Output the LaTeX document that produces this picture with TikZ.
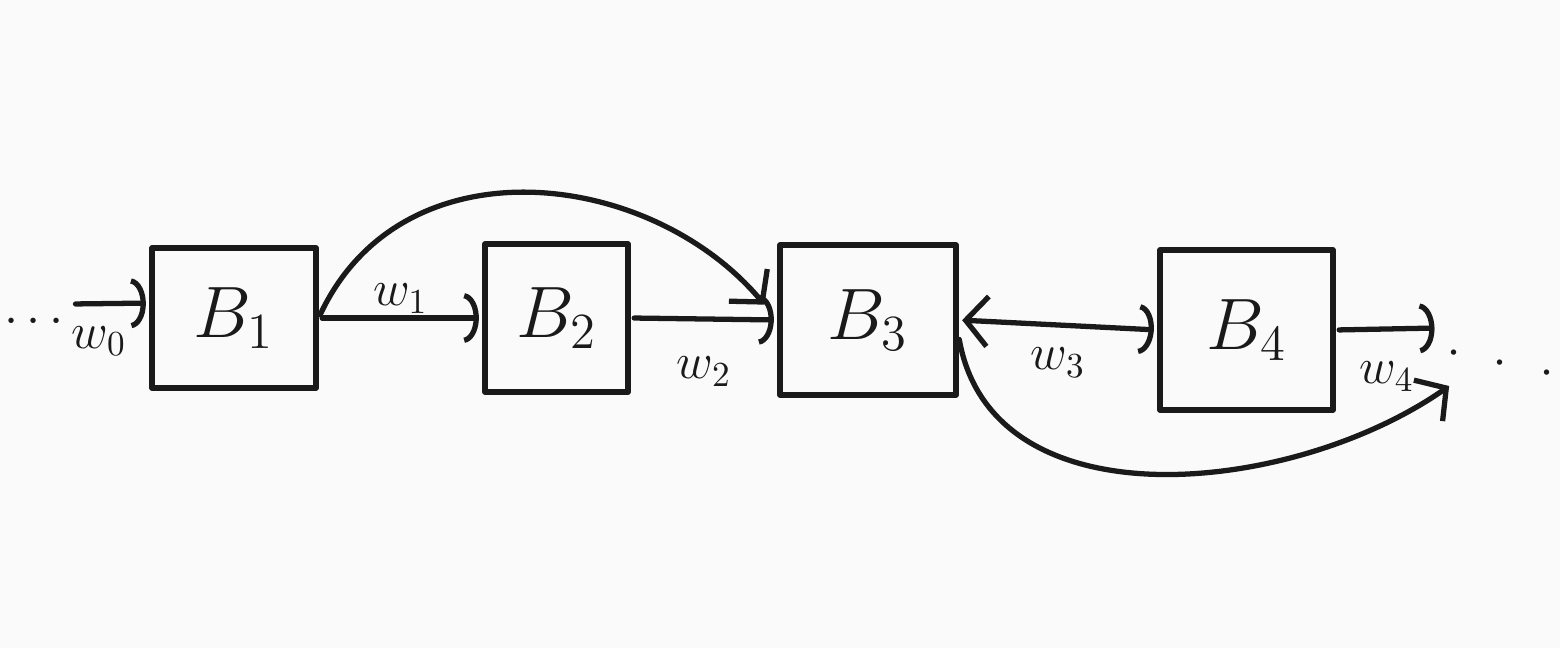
\documentclass[tikz,border=0pt]{standalone}
\usepackage{amssymb}
\usetikzlibrary{positioning,arrows.meta}
\definecolor{ink}{HTML}{1A1A1A}
\definecolor{paper}{HTML}{FAFAFA}
\tikzset{->,>={Arc Barb[width=5mm,arc=170]},
shorten >=1pt,shorten <=1pt,
auto,
blk/.style={rectangle,draw,inner sep=0mm,font=\huge},
el/.style={font=\Large,inner sep=2mm},
barb/.style={-{Straight Barb[length=2.2mm,width=5mm]}},
both/.style={{Straight Barb[length=2.2mm,width=5mm]}-{Arc Barb[width=5mm,arc=170]}},
dotsl/.style={font=\Large,inner sep=0mm},
}

\begin{document}
\begin{tikzpicture}[color=ink,line width=1.5pt,line cap=round,line join=round]
\useasboundingbox[-,fill=paper] (0,0) rectangle (15.6,-6.48);
\node[blk,minimum width=1.64cm,minimum height=1.4cm] (blk1) at (2.34,-3.18) {$B_1$};
\node[blk,minimum width=1.43cm,minimum height=1.48cm] (blk2) at (5.565,-3.18) {$B_2$};
\node[blk,minimum width=1.76cm,minimum height=1.5cm] (blk3) at (8.68,-3.2) {$B_3$};
\node[blk,minimum width=1.73cm,minimum height=1.6cm] (blk4) at (12.465,-3.3) {$B_4$};
\coordinate (in0) at (0.72,-3.04);
\coordinate (out4) at (14.38,-3.28);
\coordinate (out3) at (14.52,-3.84);
\node[dotsl] (dotsleft) at (0.34,-3.22) {$\cdots$};
\node[dotsl,rotate=-12] (dotsright) at (15.0,-3.64) {$\cdot\;\,\cdot\;\,\cdot$};

\path
(in0) edge node[el,swap,pos=0.35] {$w_0$} (blk1.170)
(blk1.east) edge node[el,inner sep=0.2mm] {$w_1$} (blk2.west)
(blk1.east) edge[barb,out=65,in=130,looseness=1.1,shorten >=2mm] (blk3.west)
(blk2.east) edge node[el,swap,inner sep=3.5mm] {$w_2$} (blk3.west)
(blk3.east) edge[both] node[el,below,midway] {$w_3$} (blk4.west)
(blk3.-10) edge[barb,out=-80,in=-145,looseness=1] (out3)
(blk4.east) edge node[el,swap,inner sep=3mm] {$w_4$} (out4)
;
\end{tikzpicture}
\end{document}
